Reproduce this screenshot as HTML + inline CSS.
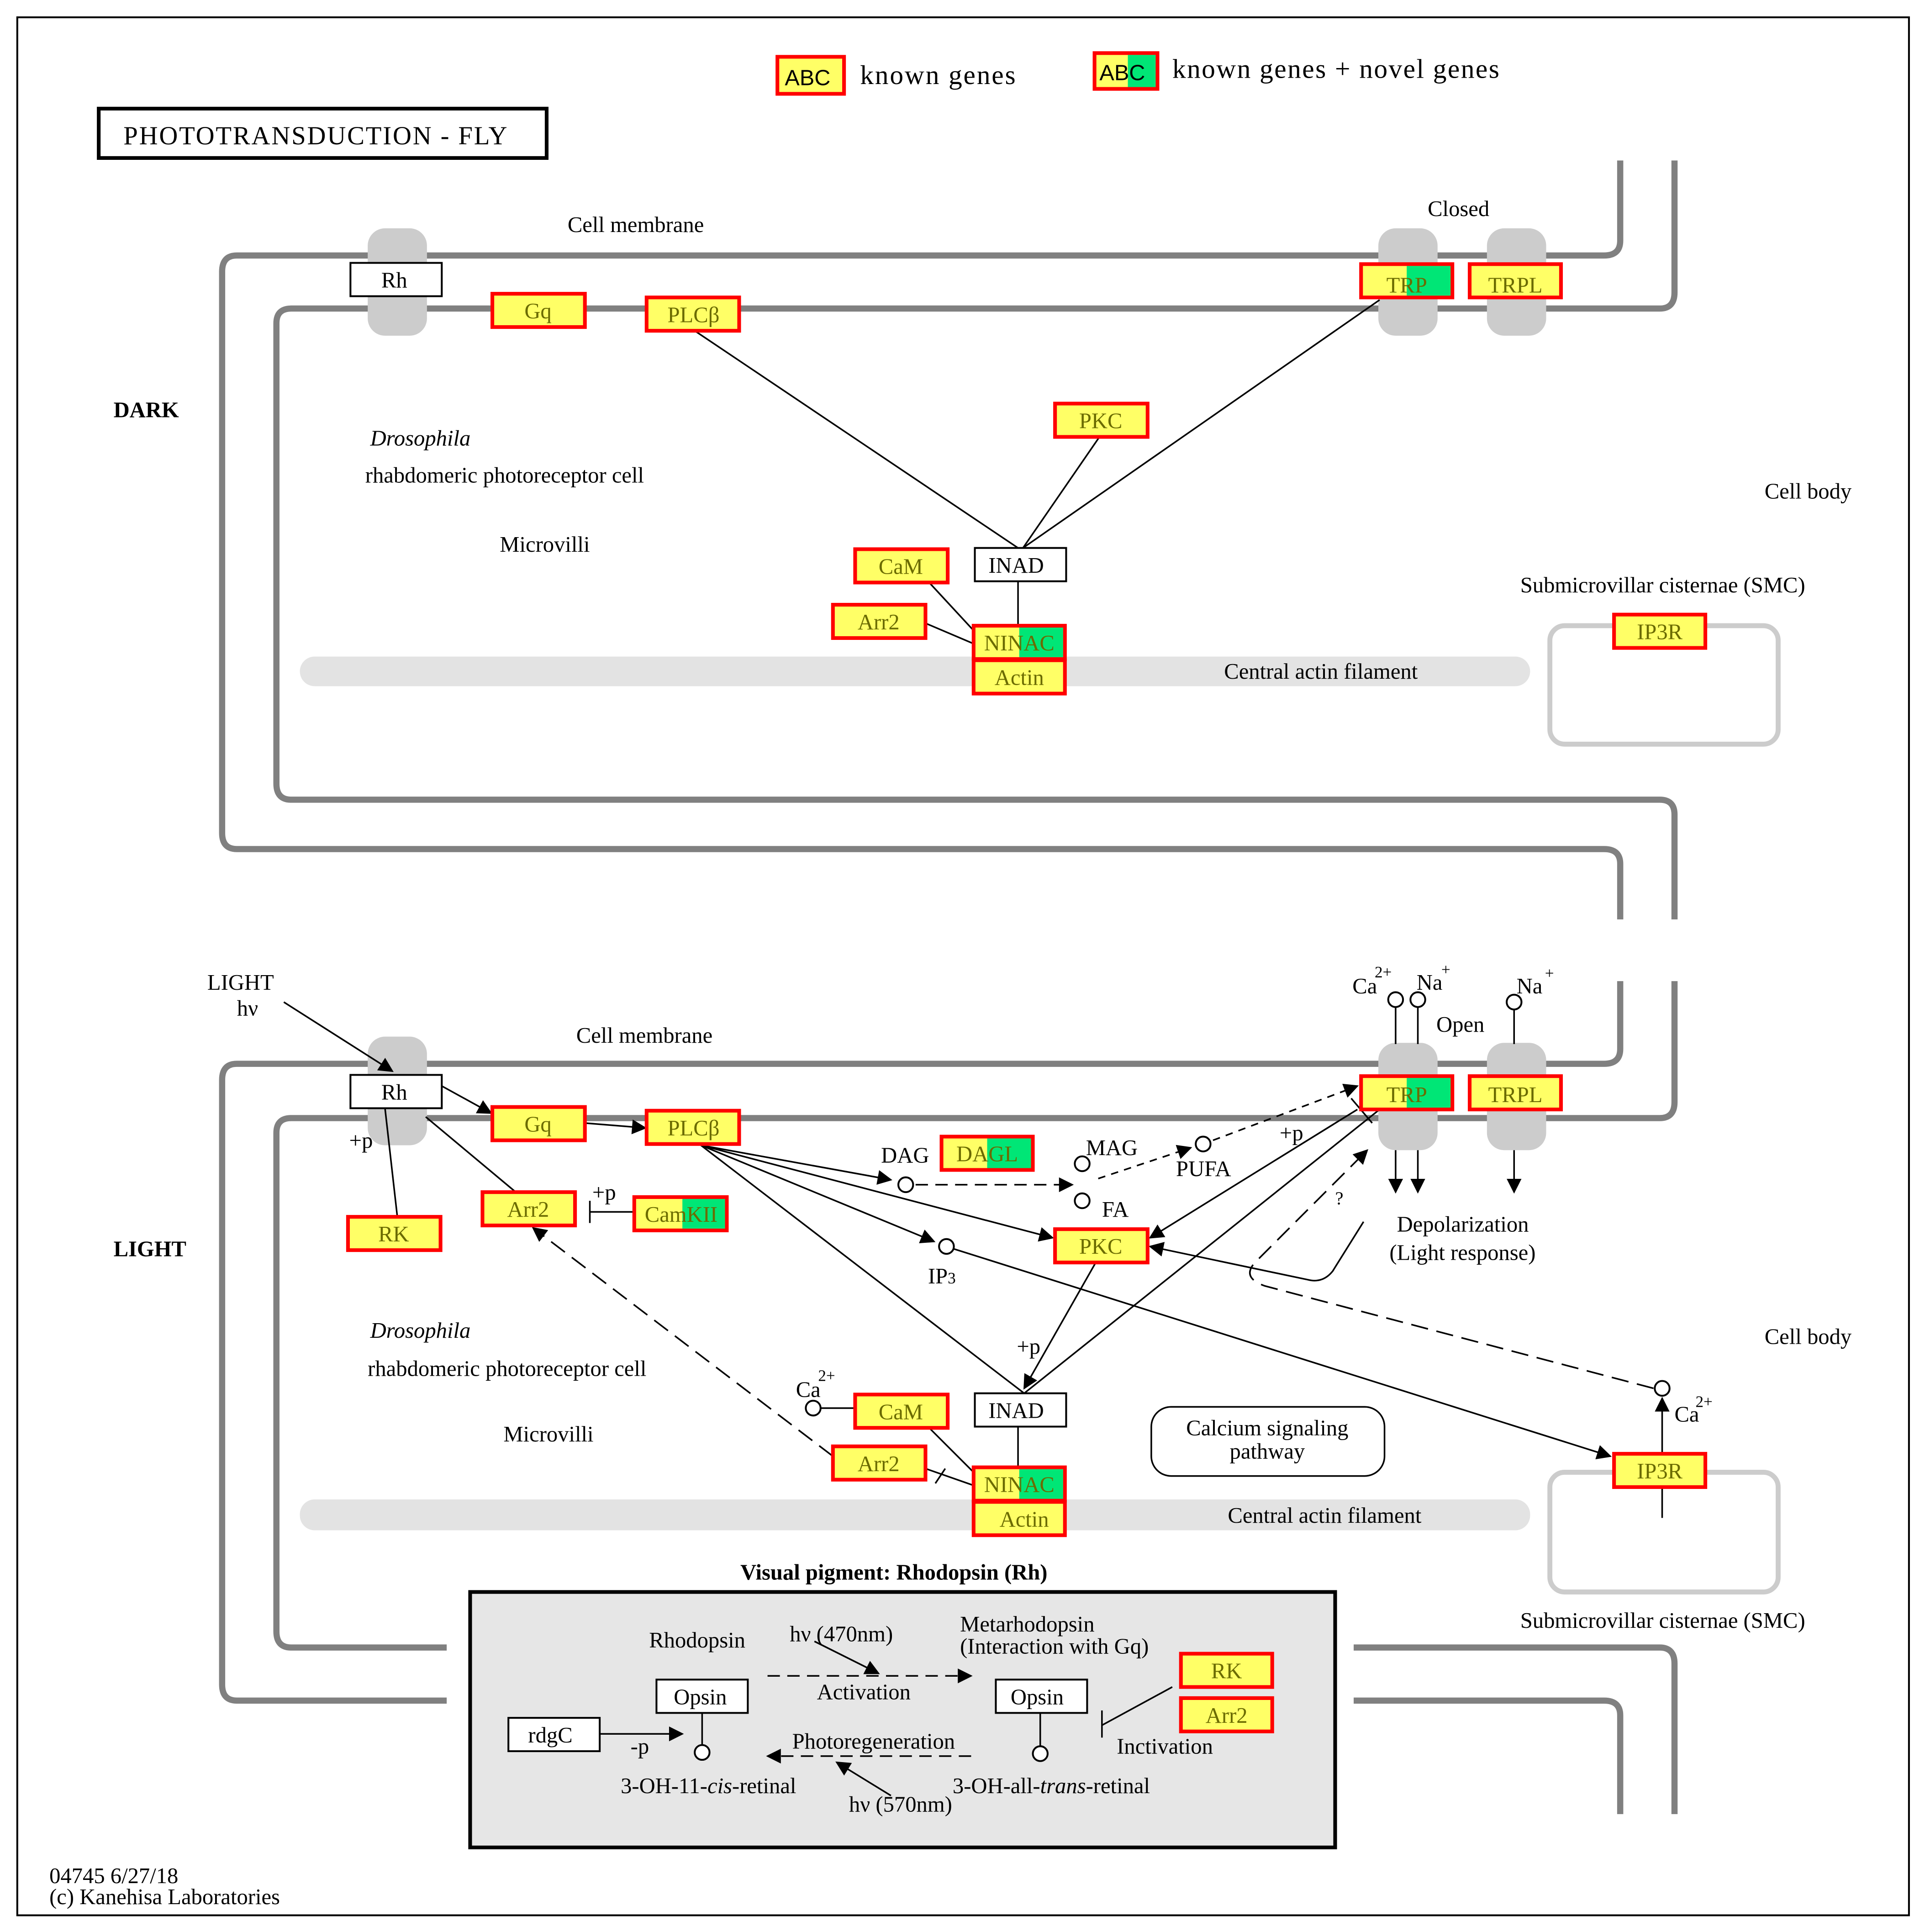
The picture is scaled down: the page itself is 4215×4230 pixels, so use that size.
<!DOCTYPE html>
<html><head><meta charset="utf-8"><style>
html,body{margin:0;padding:0;background:#fff}
svg{display:block}
text{font-family:"Liberation Serif",serif;font-size:18px;fill:#000}
.g{fill:#6b6b00;font-size:18px}
</style></head><body>
<svg width="4215" height="4230" viewBox="0 0 1560 1565.5" xmlns="http://www.w3.org/2000/svg">
<defs>
<marker id="a" viewBox="0 0 10 10" refX="9" refY="5" markerWidth="13" markerHeight="12" markerUnits="userSpaceOnUse" orient="auto"><path d="M0,0 L10,5 L0,10 z" fill="#000"/></marker>
</defs>
<rect x="0" y="0" width="1560" height="1566" fill="#fff"/>
<rect x="14" y="14" width="1533" height="1538" fill="none" stroke="#000" stroke-width="1.5"/>

<!-- legend -->
<rect x="630" y="46" width="54" height="30" fill="#ffff66" stroke="#f00" stroke-width="3"/>
<text x="636" y="69" style="font-family:'Liberation Sans',sans-serif;font-size:18px">ABC</text>
<text x="697" y="68" style="font-size:22px" textLength="126">known genes</text>
<rect x="887" y="43" width="51" height="29" fill="#ffff66" stroke="#f00" stroke-width="3"/>
<rect x="914" y="44.5" width="22.5" height="26" fill="#00e676"/>
<text x="891" y="65" style="font-family:'Liberation Sans',sans-serif;font-size:18px">ABC</text>
<text x="950" y="63" style="font-size:22px" textLength="265">known genes + novel genes</text>

<rect x="80" y="88" width="363" height="40" fill="#fff" stroke="#000" stroke-width="3"/>
<text x="100" y="117" style="font-size:21px" textLength="311">PHOTOTRANSDUCTION - FLY</text>

<g fill="none" stroke="#808080" stroke-width="5">
<path d="M1313,130 V195 Q1313,207 1300,207 H192 Q180,207 180,220 V675 Q180,688 192,688 H1300 Q1313,688 1313,700 V745"/>
<path d="M1357,130 V237 Q1357,250 1345,250 H236 Q224,250 224,262 V635 Q224,648 236,648 H1345 Q1357,648 1357,660 V745"/>
<path d="M1313,795 V850 Q1313,862 1300,862 H192 Q180,862 180,875 V1365 Q180,1378 192,1378 H362"/>
<path d="M1357,795 V893 Q1357,906 1345,906 H236 Q224,906 224,918 V1322 Q224,1335 236,1335 H362"/>
<path d="M1097,1335 H1345 Q1357,1335 1357,1348 V1470"/>
<path d="M1097,1378 H1300 Q1313,1378 1313,1390 V1470"/>
</g>

<g fill="#cccccc">
<rect x="298" y="185" width="48" height="87" rx="14"/>
<rect x="1117" y="185" width="48" height="87" rx="14"/>
<rect x="1205" y="185" width="48" height="87" rx="14"/>
<rect x="298" y="840" width="48" height="88" rx="14"/>
<rect x="1117" y="845" width="48" height="87" rx="14"/>
<rect x="1205" y="845" width="48" height="87" rx="14"/>
</g>

<rect x="243" y="532" width="997" height="24" rx="12" fill="#e3e3e3"/>
<rect x="243" y="1215" width="997" height="25" rx="12" fill="#e3e3e3"/>
<rect x="1256" y="507" width="185" height="96" rx="12" fill="none" stroke="#ccc" stroke-width="4"/>
<rect x="1256" y="1193" width="185" height="97" rx="12" fill="none" stroke="#ccc" stroke-width="4"/>

<g stroke="#000" stroke-width="1.3" fill="none">
<line x1="563" y1="268" x2="825" y2="444"/>
<line x1="1118" y1="243" x2="829" y2="444"/>
<line x1="891" y1="354" x2="829" y2="444"/>
<line x1="825" y1="471" x2="825" y2="507"/>
<line x1="753" y1="472" x2="790" y2="512"/>
<line x1="750" y1="505" x2="790" y2="522"/>
</g>

<g stroke="#000" stroke-width="1.3" fill="none">
<line x1="230" y1="812" x2="318" y2="868" marker-end="url(#a)"/>
<line x1="358" y1="880" x2="398" y2="902" marker-end="url(#a)"/>
<line x1="474" y1="910" x2="523" y2="914" marker-end="url(#a)"/>
<line x1="568" y1="928" x2="722" y2="956" marker-end="url(#a)"/>
<line x1="568" y1="928" x2="757" y2="1006" marker-end="url(#a)"/>
<line x1="568" y1="928" x2="853" y2="1003" marker-end="url(#a)"/>
<line x1="568" y1="928" x2="830" y2="1129"/>
<line x1="742" y1="960" x2="869" y2="960" stroke-dasharray="10,6" marker-end="url(#a)"/>
<line x1="890" y1="955" x2="965" y2="930" stroke-dasharray="6,5" marker-end="url(#a)"/>
<line x1="983" y1="924" x2="1100" y2="880" stroke-dasharray="6,5" marker-end="url(#a)"/>
<line x1="1100" y1="899" x2="932" y2="1003" marker-end="url(#a)"/>
<line x1="1118" y1="899" x2="830" y2="1129"/>
<line x1="888" y1="1023" x2="830" y2="1125" marker-end="url(#a)"/>
<path d="M1105,990 L1080,1030 Q1072,1040 1060,1037 L932,1010" marker-end="url(#a)"/>
<path d="M1340,1125 L1025,1042 Q1005,1035 1018,1022 L1108,932" stroke-dasharray="14,7" marker-end="url(#a)"/>
<line x1="1095" y1="890" x2="1112" y2="910"/>
<line x1="773" y1="1012" x2="1305" y2="1180" marker-end="url(#a)"/>
<line x1="1347" y1="1230" x2="1347" y2="1133" marker-end="url(#a)"/>
<line x1="1131" y1="816" x2="1131" y2="846"/>
<line x1="1149" y1="816" x2="1149" y2="846"/>
<line x1="1227" y1="818" x2="1227" y2="846"/>
<line x1="1131" y1="932" x2="1131" y2="966" marker-end="url(#a)"/>
<line x1="1149" y1="932" x2="1149" y2="966" marker-end="url(#a)"/>
<line x1="1227" y1="932" x2="1227" y2="966" marker-end="url(#a)"/>
<line x1="312" y1="898" x2="322" y2="986"/>
<line x1="345" y1="905" x2="418" y2="966"/>
<line x1="478" y1="982" x2="514" y2="982"/>
<line x1="478" y1="973" x2="478" y2="991"/>
<line x1="675" y1="1180" x2="432" y2="995" stroke-dasharray="14,7" marker-end="url(#a)"/>
<line x1="665" y1="1141" x2="693" y2="1141"/>
<line x1="825" y1="1156" x2="825" y2="1189"/>
<line x1="753" y1="1157" x2="790" y2="1194"/>
<line x1="750" y1="1190" x2="790" y2="1204"/>
<line x1="758" y1="1202" x2="766" y2="1190"/>
</g>

<g fill="#fff" stroke="#000" stroke-width="1.5">
<circle cx="1131" cy="810" r="6"/><circle cx="1149" cy="810" r="6"/><circle cx="1227" cy="812" r="6"/>
<circle cx="734" cy="960" r="6"/><circle cx="767" cy="1010" r="6"/>
<circle cx="877" cy="943" r="6"/><circle cx="877" cy="973" r="6"/><circle cx="975" cy="927" r="6"/>
<circle cx="1347" cy="1125" r="6"/><circle cx="659" cy="1141" r="6"/>
</g>

<rect x="381" y="1290" width="701" height="207" fill="#e6e6e6" stroke="#000" stroke-width="3"/>
<g stroke="#000" stroke-width="1.3" fill="none">
<line x1="622" y1="1358" x2="787" y2="1358" stroke-dasharray="10,6" marker-end="url(#a)"/>
<line x1="660" y1="1330" x2="712" y2="1356" marker-end="url(#a)"/>
<line x1="787" y1="1423" x2="622" y2="1423" stroke-dasharray="10,6" marker-end="url(#a)"/>
<line x1="722" y1="1455" x2="678" y2="1428" marker-end="url(#a)"/>
<line x1="486" y1="1405" x2="553" y2="1405" marker-end="url(#a)"/>
<line x1="569" y1="1388" x2="569" y2="1414"/>
<line x1="843" y1="1388" x2="843" y2="1415"/>
<line x1="950" y1="1367" x2="893" y2="1398"/>
<line x1="893" y1="1386" x2="893" y2="1408"/>
</g>
<circle cx="569" cy="1420" r="6" fill="#fff" stroke="#000" stroke-width="1.5"/>
<circle cx="843" cy="1421" r="6" fill="#fff" stroke="#000" stroke-width="1.5"/>
<rect x="532" y="1361" width="74" height="27" fill="#fff" stroke="#000" stroke-width="1.5"/>
<rect x="807" y="1361" width="74" height="27" fill="#fff" stroke="#000" stroke-width="1.5"/>
<rect x="412" y="1392" width="74" height="27" fill="#fff" stroke="#000" stroke-width="1.5"/>
<text x="546" y="1381">Opsin</text><text x="819" y="1381">Opsin</text><text x="428" y="1412">rdgC</text>
<text x="526" y="1335">Rhodopsin</text>
<text x="640" y="1330">hν (470nm)</text>
<text x="778" y="1322">Metarhodopsin</text>
<text x="778" y="1340">(Interaction with Gq)</text>
<text x="662" y="1377">Activation</text>
<text x="642" y="1417">Photoregeneration</text>
<text x="905" y="1421">Inctivation</text>
<text x="511" y="1421">-p</text>
<text x="503" y="1453">3-OH-11-<tspan font-style="italic">cis</tspan>-retinal</text>
<text x="772" y="1453">3-OH-all-<tspan font-style="italic">trans</tspan>-retinal</text>
<text x="688" y="1468">hν (570nm)</text>
<text x="600" y="1280" font-weight="bold">Visual pigment: Rhodopsin (Rh)</text>

<g fill="#fff" stroke="#000" stroke-width="1.5">
<rect x="284" y="213" width="74" height="27"/><rect x="790" y="444" width="74" height="27"/>
<rect x="284" y="871" width="74" height="27"/><rect x="790" y="1129" width="74" height="27"/>
</g>
<text x="309" y="233">Rh</text><text x="801" y="464">INAD</text>
<text x="309" y="891">Rh</text><text x="801" y="1149">INAD</text>

<g fill="#ffff66" stroke="#f00" stroke-width="3">
<rect x="399" y="238" width="75" height="27"/><rect x="524" y="241" width="75" height="27"/>
<rect x="1103" y="214" width="74" height="27"/><rect x="1191" y="214" width="74" height="27"/>
<rect x="855" y="327" width="75" height="27"/><rect x="693" y="445" width="75" height="27"/>
<rect x="675" y="490" width="75" height="27"/><rect x="789" y="507" width="74" height="27"/>
<rect x="789" y="535" width="74" height="27"/><rect x="1308" y="498" width="74" height="27"/>
<rect x="399" y="897" width="75" height="27"/><rect x="524" y="900" width="75" height="27"/>
<rect x="1103" y="872" width="74" height="27"/><rect x="1191" y="872" width="74" height="27"/>
<rect x="282" y="986" width="75" height="27"/><rect x="391" y="966" width="75" height="27"/>
<rect x="514" y="970" width="75" height="27"/><rect x="763" y="921" width="74" height="27"/>
<rect x="855" y="996" width="75" height="27"/><rect x="693" y="1130" width="75" height="27"/>
<rect x="675" y="1172" width="75" height="27"/><rect x="789" y="1189" width="74" height="27"/>
<rect x="789" y="1217" width="74" height="27"/><rect x="1308" y="1178" width="74" height="27"/>
<rect x="957" y="1340" width="74" height="27"/><rect x="957" y="1376" width="74" height="27"/>
</g>
<g fill="#00e676">
<rect x="1140" y="215.5" width="35.5" height="24"/>
<rect x="826" y="508.5" width="35.5" height="24"/>
<rect x="1140" y="873.5" width="35.5" height="24"/>
<rect x="553" y="971.5" width="34.5" height="24"/>
<rect x="800" y="922.5" width="35.5" height="24"/>
<rect x="826" y="1190.5" width="35.5" height="24"/>
</g>
<g class="g" text-anchor="middle">
<text class="g" x="436" y="258">Gq</text><text class="g" x="562" y="261">PLCβ</text>
<text class="g" x="1140" y="237">TRP</text><text class="g" x="1228" y="237">TRPL</text>
<text class="g" x="892" y="347">PKC</text><text class="g" x="730" y="465">CaM</text>
<text class="g" x="712" y="510">Arr2</text><text class="g" x="826" y="527">NINAC</text>
<text class="g" x="826" y="555">Actin</text><text class="g" x="1345" y="518">IP3R</text>
<text class="g" x="436" y="917">Gq</text><text class="g" x="562" y="920">PLCβ</text>
<text class="g" x="1140" y="893">TRP</text><text class="g" x="1228" y="893">TRPL</text>
<text class="g" x="319" y="1006">RK</text><text class="g" x="428" y="986">Arr2</text>
<text class="g" x="552" y="990">CamKII</text><text class="g" x="800" y="941">DAGL</text>
<text class="g" x="892" y="1016">PKC</text><text class="g" x="730" y="1150">CaM</text>
<text class="g" x="712" y="1192">Arr2</text><text class="g" x="826" y="1209">NINAC</text>
<text class="g" x="830" y="1237">Actin</text><text class="g" x="1345" y="1198">IP3R</text>
<text class="g" x="994" y="1360">RK</text><text class="g" x="994" y="1396">Arr2</text>
</g>

<text x="460" y="188">Cell membrane</text>
<text x="1157" y="175">Closed</text>
<text x="92" y="338" font-weight="bold">DARK</text>
<text x="300" y="361" font-style="italic">Drosophila</text>
<text x="296" y="391">rhabdomeric photoreceptor cell</text>
<text x="405" y="447">Microvilli</text>
<text x="1430" y="404">Cell body</text>
<text x="1232" y="480">Submicrovillar cisternae (SMC)</text>
<text x="992" y="550">Central actin filament</text>

<text x="168" y="802">LIGHT</text>
<text x="192" y="823">hν</text>
<text x="467" y="845">Cell membrane</text>
<text x="1096" y="805">Ca</text><text x="1114" y="792" style="font-size:13px">2+</text>
<text x="1148" y="802">Na</text><text x="1168" y="790" style="font-size:13px">+</text>
<text x="1229" y="805">Na</text><text x="1252" y="793" style="font-size:13px">+</text>
<text x="1164" y="836">Open</text>
<text x="92" y="1018" font-weight="bold">LIGHT</text>
<text x="283" y="930">+p</text>
<text x="480" y="972">+p</text>
<text x="714" y="942">DAG</text>
<text x="880" y="936">MAG</text>
<text x="893" y="986">FA</text>
<text x="953" y="953">PUFA</text>
<text x="1037" y="924">+p</text>
<text x="1082" y="976" style="font-size:15px">?</text>
<text x="752" y="1040">IP<tspan style="font-size:13px">3</tspan></text>
<text x="824" y="1097">+p</text>
<text x="1132" y="998">Depolarization</text>
<text x="1126" y="1021">(Light response)</text>
<text x="1430" y="1089">Cell body</text>
<text x="1357" y="1152">Ca</text><text x="1374" y="1140" style="font-size:13px">2+</text>
<text x="645" y="1132">Ca</text><text x="663" y="1119" style="font-size:13px">2+</text>
<text x="300" y="1084" font-style="italic">Drosophila</text>
<text x="298" y="1115">rhabdomeric photoreceptor cell</text>
<text x="408" y="1168">Microvilli</text>
<text x="995" y="1234">Central actin filament</text>
<text x="1232" y="1319">Submicrovillar cisternae (SMC)</text>
<rect x="933" y="1140" width="189" height="56" rx="16" fill="none" stroke="#000" stroke-width="1.3"/>
<text x="1027" y="1163" text-anchor="middle">Calcium signaling</text>
<text x="1027" y="1182" text-anchor="middle">pathway</text>

<text x="40" y="1526">04745 6/27/18</text>
<text x="40" y="1543">(c) Kanehisa Laboratories</text>
</svg>
</body></html>
